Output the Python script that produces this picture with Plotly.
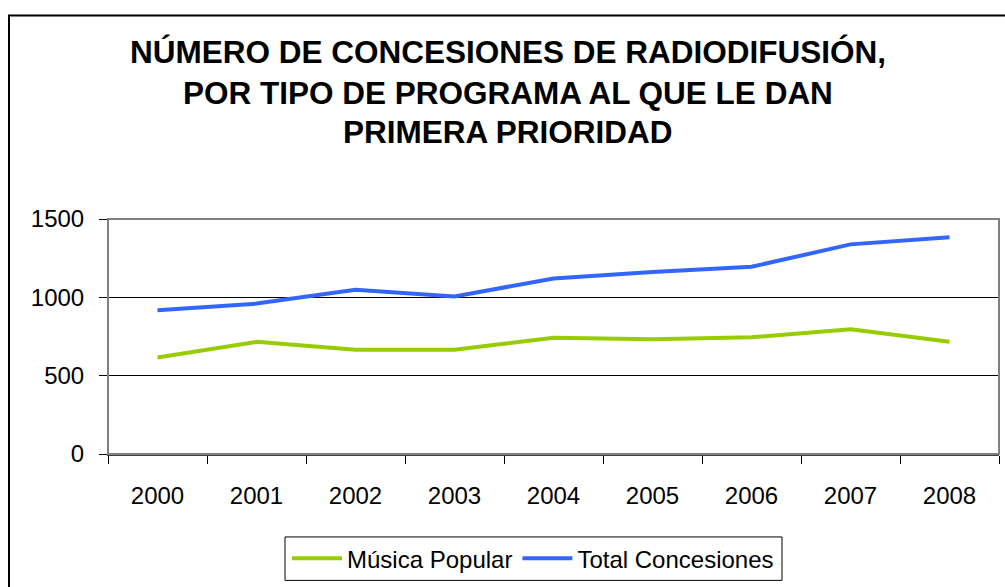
import plotly.graph_objects as go

years = ["2000", "2001", "2002", "2003", "2004", "2005", "2006", "2007", "2008"]
musica_popular = [616, 716, 666, 666, 742, 733, 745, 796, 716]
total_concesiones = [918, 960, 1048, 1006, 1120, 1161, 1195, 1338, 1384]

title_lines = [
    "NÚMERO DE CONCESIONES DE RADIODIFUSIÓN,",
    "POR TIPO DE PROGRAMA AL QUE LE DAN",
    "PRIMERA PRIORIDAD",
]

W, H = 1005, 587
L, R, T, B = 108, 6, 219, 130
pw, ph = W - L - R, H - T - B


def px_x(x):
    return (x - L) / pw


def px_y(y):
    return (H - B - y) / ph


font = "Liberation Sans, Arial, sans-serif"

fig = go.Figure()
fig.add_trace(go.Scatter(x=years, y=musica_popular, mode="lines", name="Música Popular",
                         line=dict(color="#99CC00", width=4)))
fig.add_trace(go.Scatter(x=years, y=total_concesiones, mode="lines", name="Total Concesiones",
                         line=dict(color="#3366FF", width=4)))

for text, yc in zip(title_lines, [50, 91, 131]):
    fig.add_annotation(text=f"<b>{text}</b>", x=px_x(508), y=px_y(yc), xref="paper", yref="paper",
                       xanchor="center", yanchor="middle", showarrow=False,
                       font=dict(family=font, size=31.5, color="black"))

# plot area border (gray), legend box and outer frame (black)
fig.add_shape(type="rect", xref="paper", yref="paper", x0=0, x1=1, y0=0, y1=1,
              line=dict(color="#808080", width=2), layer="above")
fig.add_shape(type="rect", xref="paper", yref="paper", x0=px_x(285), x1=px_x(782),
              y0=px_y(585), y1=px_y(541), line=dict(color="black", width=1))
fig.add_shape(type="rect", xref="paper", yref="paper", x0=px_x(9), x1=1.2, y0=-0.8, y1=px_y(13),
              line=dict(color="black", width=2))

fig.update_layout(
    width=W, height=H,
    margin=dict(l=L, r=R, t=T, b=B),
    paper_bgcolor="white", plot_bgcolor="white",
    font=dict(family=font, size=24, color="black"),
    showlegend=True,
    legend=dict(orientation="h", x=px_x(533), y=px_y(563), xanchor="center", yanchor="middle",
                borderwidth=0, bgcolor="rgba(0,0,0,0)", font=dict(size=24),
                itemwidth=50, tracegroupgap=0),
)
fig.update_xaxes(type="category", range=[-0.5, 8.5], tickson="boundaries", ticks="outside", ticklen=8,
                 tickcolor="black", showline=True, linecolor="#404040", linewidth=2,
                 showgrid=False, ticklabelstandoff=19, tickfont=dict(size=24))
fig.update_yaxes(range=[0, 1500], tickvals=[0, 500, 1000, 1500], ticks="outside", ticklen=8,
                 tickcolor="black", showline=True, linecolor="#404040", linewidth=1,
                 showgrid=True, gridcolor="black", gridwidth=1, zeroline=False,
                 ticklabelstandoff=10, tickfont=dict(size=24))

fig.write_html("out.html", config={"displayModeBar": False},
               post_script="document.body.style.margin='0';")
